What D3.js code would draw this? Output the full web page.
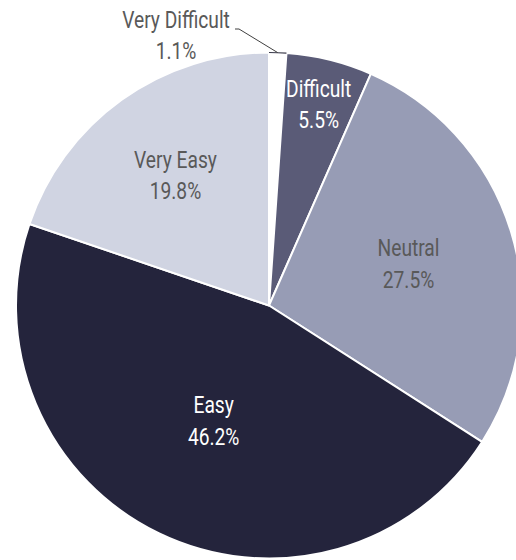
<!DOCTYPE html>
<html><head><meta charset="utf-8">
<script src="https://cdn.jsdelivr.net/npm/d3@7"></script>
<style>
html,body{margin:0;padding:0;background:#fff;}
svg{display:block;}
text{font-family:Roboto,"DejaVu Sans",sans-serif;}
</style></head><body>
<svg id="c" width="516" height="560"></svg>
<script>
const categories = ["Very Difficult","Difficult","Neutral","Easy","Very Easy"];
const values = [1.1, 5.5, 27.5, 46.2, 19.8];
const valueLabels = ["1.1%","5.5%","27.5%","46.2%","19.8%"];
const colors = ["#ffffff","#5a5b77","#979cb5","#24243c","#d0d4e2"];
const textColors = ["#595959","#ffffff","#595959","#ffffff","#595959"];
const labelRadius = [null, 0.82, 0.576, 0.504, 0.635];

const cx = 269, cy = 305.5, R = 253;
const FS = 24, SX = 0.8, LINE = 31.5, CAP = 8.5;
const svg = d3.select("#c");
const g = svg.append("g").attr("transform",`translate(${cx},${cy})`);
const data = categories.map((c,i)=>({cat:c, v:values[i], lab:valueLabels[i], col:colors[i], tc:textColors[i], lr:labelRadius[i]}));
const pie = d3.pie().value(d=>d.v).sort(null);
const arcs = pie(data);
const arc = d3.arc().innerRadius(0).outerRadius(R);

g.selectAll("path.slice").data(arcs).join("path").attr("class","slice")
  .attr("d",arc).attr("fill",d=>d.data.col).attr("stroke","#fff").attr("stroke-width",2).attr("stroke-linejoin","round");

// outline of the tiny white slice outer edge
const a0 = arcs[0];
const outer = d3.arc().innerRadius(R-0.6).outerRadius(R+0.6).startAngle(a0.startAngle).endAngle(a0.endAngle);
g.append("path").attr("d",outer()).attr("fill","#3a3a4a");

function label(x, y, l1, l2, color){
  const gg = g.append("g").attr("transform",`translate(${x},${y}) scale(${SX},1)`);
  const t = gg.append("text").attr("text-anchor","middle").attr("fill",color).attr("font-size",FS);
  t.append("tspan").attr("x",0).attr("y",-LINE/2+CAP).text(l1);
  t.append("tspan").attr("x",0).attr("y",LINE/2+CAP).text(l2);
}

arcs.forEach(d=>{
  if(d.data.lr==null) return;
  const r = R*d.data.lr;
  const a = (d.startAngle+d.endAngle)/2;
  label(r*Math.sin(a), -r*Math.cos(a), d.data.cat, d.data.lab, d.data.tc);
});

// outside label for Very Difficult
{
  const d = arcs[0];
  const a = (d.startAngle+d.endAngle)/2;
  const px = R*Math.sin(a), py = -R*Math.cos(a);
  const lx = 176 - cx, ly = 35 - cy;
  g.append("path").attr("d",`M${px},${py}L${lx+63},${ly-6}L${lx+59},${ly-6}`)
    .attr("fill","none").attr("stroke","#404040").attr("stroke-width",1);
  label(lx, ly, d.data.cat, d.data.lab, "#595959");
}
</script></body></html>
